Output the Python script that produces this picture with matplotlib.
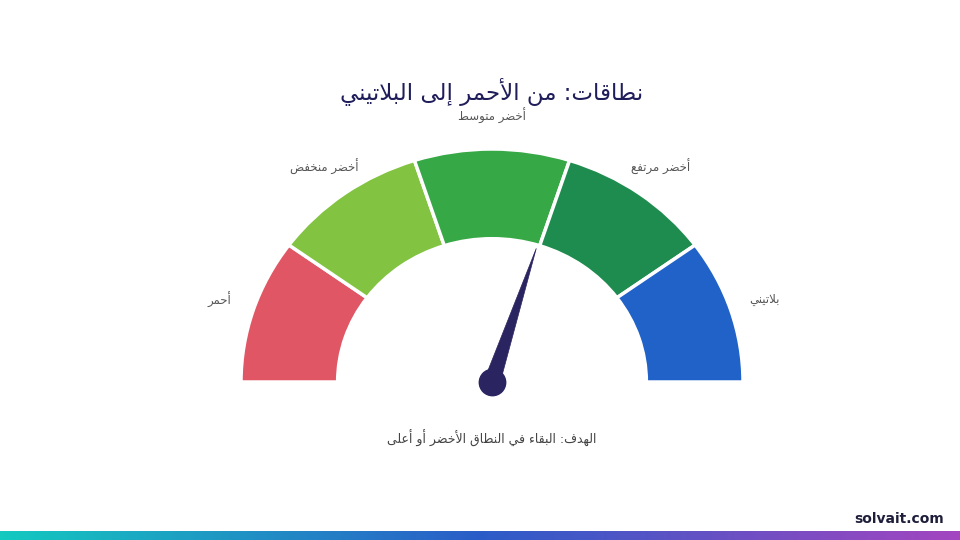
import numpy as np
from matplotlib import pyplot as plt
from matplotlib.patches import Wedge, Polygon
from matplotlib.colors import LinearSegmentedColormap

title = 'نطاقات: من الأحمر إلى البلاتيني'
subtitle = 'الهدف: البقاء في النطاق الأخضر أو أعلى'
band_labels = ['أحمر', 'أخضر منخفض', 'أخضر متوسط', 'أخضر مرتفع', 'بلاتيني']
band_edges = [0, 20, 40, 60, 80, 100]
band_colors = ['#E05664', '#82C341', '#37A846', '#1E8C4F', '#2062C8']
needle_value = 59.5
footer = 'solvait.com'
bar_colors = ['#14C9C0', '#2B5CC8', '#A345C0']

# minimal arabic shaping: base codepoint of presentation form, 0 none / 1 right / 2 dual joining
FORMS = {
    'ء': (0xFE80, 0), 'آ': (0xFE81, 1), 'أ': (0xFE83, 1), 'ؤ': (0xFE85, 1), 'إ': (0xFE87, 1),
    'ئ': (0xFE89, 2), 'ا': (0xFE8D, 1), 'ب': (0xFE8F, 2), 'ة': (0xFE93, 1), 'ت': (0xFE95, 2),
    'ث': (0xFE99, 2), 'ج': (0xFE9D, 2), 'ح': (0xFEA1, 2), 'خ': (0xFEA5, 2), 'د': (0xFEA9, 1),
    'ذ': (0xFEAB, 1), 'ر': (0xFEAD, 1), 'ز': (0xFEAF, 1), 'س': (0xFEB1, 2), 'ش': (0xFEB5, 2),
    'ص': (0xFEB9, 2), 'ض': (0xFEBD, 2), 'ط': (0xFEC1, 2), 'ظ': (0xFEC5, 2), 'ع': (0xFEC9, 2),
    'غ': (0xFECD, 2), 'ف': (0xFED1, 2), 'ق': (0xFED5, 2), 'ك': (0xFED9, 2), 'ل': (0xFEDD, 2),
    'م': (0xFEE1, 2), 'ن': (0xFEE5, 2), 'ه': (0xFEE9, 2), 'و': (0xFEED, 1), 'ى': (0xFEEF, 1),
    'ي': (0xFEF1, 2),
    'لآ': (0xFEF5, 1), 'لأ': (0xFEF7, 1), 'لإ': (0xFEF9, 1), 'لا': (0xFEFB, 1),
}


def shape(text):
    tokens = []
    i = 0
    while i < len(text):
        if text[i:i + 2] in FORMS:
            tokens.append(text[i:i + 2])
            i += 2
        else:
            tokens.append(text[i])
            i += 1
    jt = [FORMS[t][1] if t in FORMS else -1 for t in tokens]
    out = []
    for k, t in enumerate(tokens):
        if t not in FORMS or jt[k] == 0:
            out.append(t)
            continue
        prev_j = k > 0 and jt[k - 1] == 2
        next_j = jt[k] == 2 and k + 1 < len(tokens) and jt[k + 1] >= 1
        if prev_j and next_j:
            off = 3
        elif prev_j:
            off = 1
        elif next_j:
            off = 2
        else:
            off = 0
        out.append(chr(FORMS[t][0] + off))
    return ''.join(out)[::-1]


def angle(v):
    return 180 - v / 100 * 180


fig = plt.figure(figsize=(9.6, 5.4), dpi=100)
fig.patch.set_facecolor('white')

# gauge axes: x units of 251 px, y units of 233 px, centre at (492, 382)
sx, sy = 251, 233
xl, yl = (-1.3, 1.3), (-0.25, 1.25)
ax = fig.add_axes([(492 + xl[0] * sx) / 960, (158 + yl[0] * sy) / 540,
                   (xl[1] - xl[0]) * sx / 960, (yl[1] - yl[0]) * sy / 540])
ax.set_xlim(*xl)
ax.set_ylim(*yl)
ax.axis('off')

for i in range(len(band_labels)):
    t1 = angle(band_edges[i + 1])
    t2 = angle(band_edges[i])
    ax.add_patch(Wedge((0, 0), 1.0, t1, t2, width=0.385, facecolor=band_colors[i],
                       edgecolor='white', linewidth=2.5))
    mid = np.radians((t1 + t2) / 2)
    ax.text(1.14 * np.cos(mid), 1.14 * np.sin(mid), shape(band_labels[i]),
            ha='center', va='center', fontsize=8.5, color='#555555')

# needle
a = np.radians(angle(needle_value))
d = np.array([np.cos(a) * sx, np.sin(a) * sy])
d = d / np.linalg.norm(d)
p = np.array([-d[1], d[0]]) * 8
tip = (0.6 * np.cos(a), 0.6 * np.sin(a))
needle = Polygon([(p[0] / sx, p[1] / sy), tip, (-p[0] / sx, -p[1] / sy)],
                 closed=True, facecolor='#2A2461', edgecolor='#2A2461', linewidth=0.5)
ax.add_patch(needle)
ax.plot([0], [0], 'o', ms=19, color='#2A2461', clip_on=False)

fig.text(492 / 960, 1 - 92 / 540, shape(title), ha='center', va='center',
         fontsize=16.5, color='#1F1D5A')
fig.text(492 / 960, 1 - 438 / 540, shape(subtitle), ha='center', va='center',
         fontsize=9, color='#444444')
fig.text(944 / 960, 1 - 519 / 540, footer, ha='right', va='center',
         fontsize=10, fontweight='bold', color='#1E1E3A')

# gradient strip at the bottom
bar = fig.add_axes([0, 0, 1, 9 / 540])
cmap = LinearSegmentedColormap.from_list('strip', bar_colors)
bar.imshow(np.linspace(0, 1, 256).reshape(1, -1), aspect='auto', cmap=cmap)
bar.axis('off')

fig.savefig('out.png', dpi=100, facecolor='white')
